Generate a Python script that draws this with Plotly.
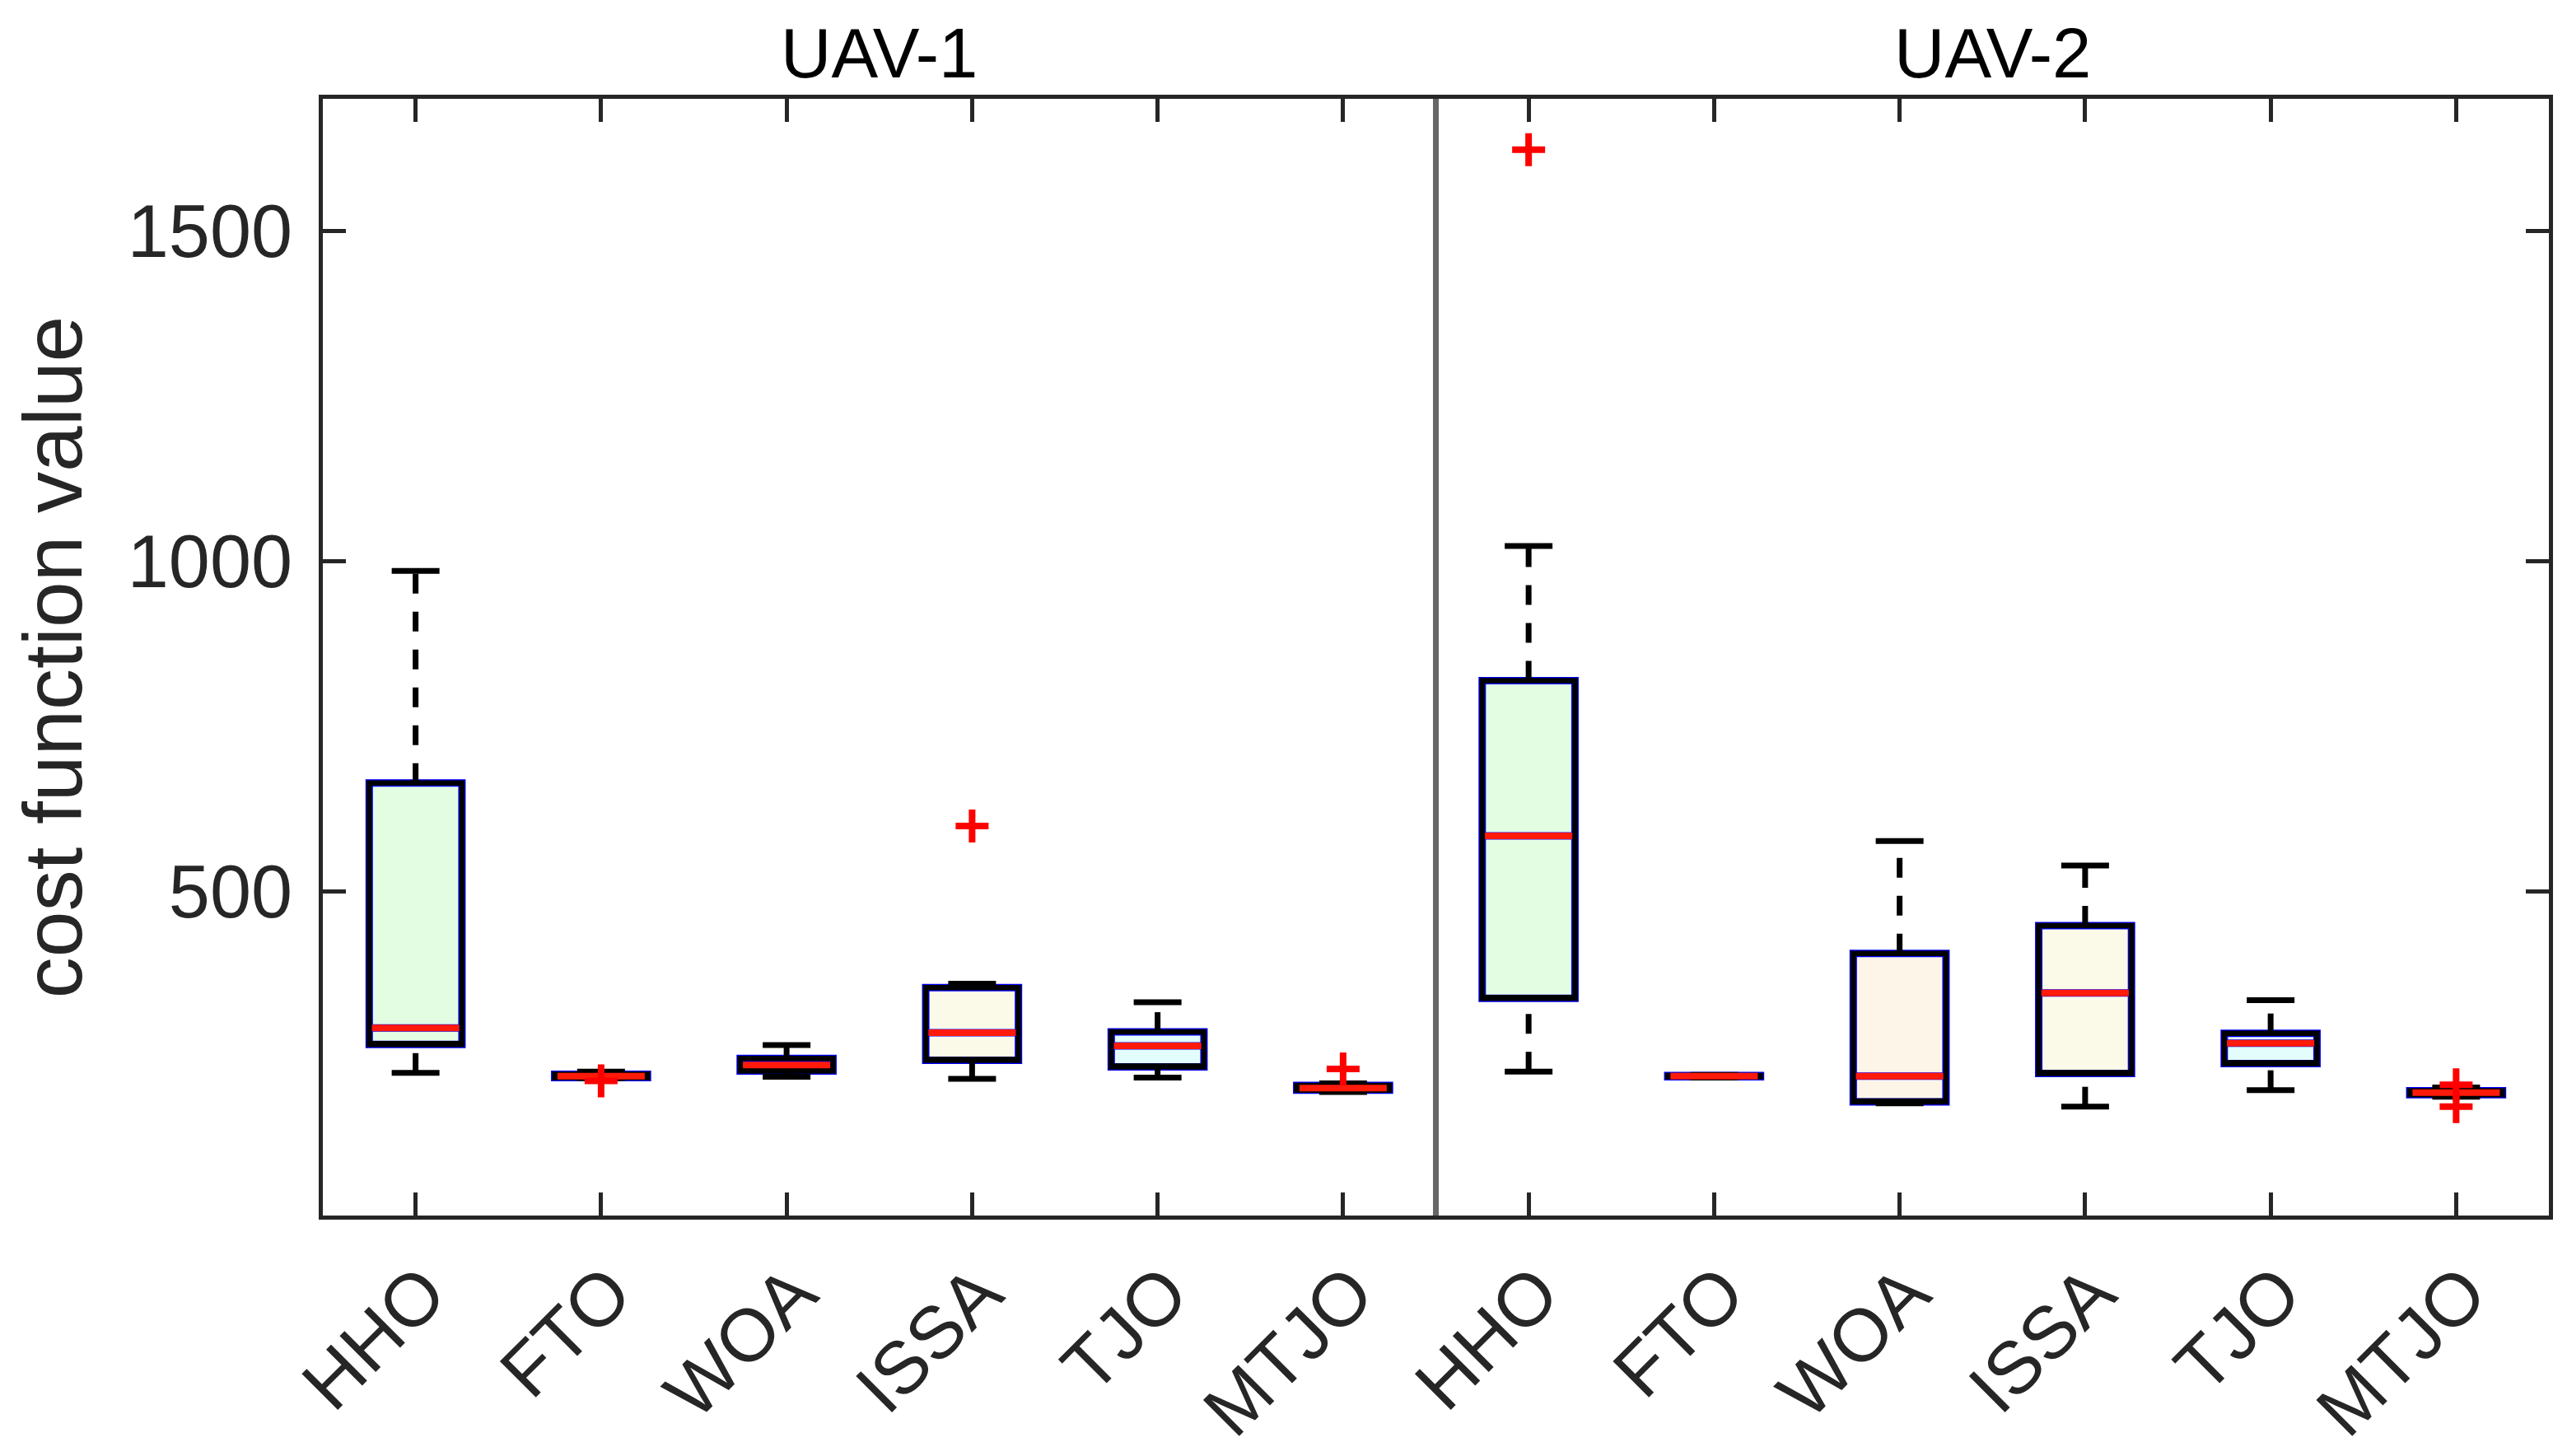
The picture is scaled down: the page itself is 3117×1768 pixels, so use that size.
import plotly.graph_objs as go

algos = ["HHO", "FTO", "WOA", "ISSA", "TJO", "MTJO"]
uavs = ["UAV-1", "UAV-2"]

# UAV-1 box statistics
lower_1 = [225, 217, 219, 216, 218, 196]
q1_1 = [268, 218, 228, 244, 234, 199]
median_1 = [293, 220, 237, 286, 266, 202]
q3_1 = [664, 223, 247, 354, 287, 206]
upper_1 = [985, 227, 267, 360, 332, 209]
outliers_1 = [[], [213], [], [599], [], [231]]

# UAV-2 box statistics
lower_2 = [227, 218, 179, 174, 199, 189]
q1_2 = [338, 219, 181, 224, 239, 192]
median_2 = [584, 220, 220, 346, 270, 195]
q3_2 = [819, 221, 406, 448, 285, 198]
upper_2 = [1023, 222, 576, 539, 335, 203]
outliers_2 = [[1623], [], [], [], [], [207, 174]]

fills = ["#e3fde3", "#fde8ec", "#fdf5e8", "#fbf9e8", "#e3fdfd", "#e8e8fd"]

FONT = "Liberation Sans, Arial, sans-serif"
AX = "#262626"
K = 1.4  # plotly draws line-ew / cross-thin markers 1.4x their size

n = len(algos)
pos = list(range(1, 2 * n + 1))
lower = lower_1 + lower_2
q1 = q1_1 + q1_2
med = median_1 + median_2
q3 = q3_1 + q3_2
upper = upper_1 + upper_2
outl = outliers_1 + outliers_2

data = []

# dashed whiskers, drawn bottom to top like MATLAB
wx, wy = [], []
for i, p in enumerate(pos):
    wx += [p, p, None, p, p, None]
    wy += [lower[i], q1[i], None, q3[i], upper[i], None]
data.append(go.Scatter(x=wx, y=wy, mode="lines", hoverinfo="skip",
                       line=dict(color="black", width=7, dash="24px,22px")))

# whisker caps
data.append(go.Scatter(x=pos + pos, y=lower + upper, mode="markers", hoverinfo="skip",
                       marker=dict(symbol="line-ew", size=58 / K,
                                   line=dict(color="black", width=7))))

# boxes: filled with blue edge underneath, black edge on top
for j, a in enumerate(algos):
    idx = [j, j + n]
    data.append(go.Box(
        x=[pos[k] for k in idx], q1=[q1[k] for k in idx], median=[med[k] for k in idx],
        q3=[q3[k] for k in idx], lowerfence=[q1[k] for k in idx],
        upperfence=[q3[k] for k in idx], width=0.5, whiskerwidth=0,
        fillcolor=fills[j], line=dict(color="#0000ff", width=9), hoverinfo="skip"))
data.append(go.Box(x=pos, q1=q1, median=q1, q3=q3, lowerfence=q1, upperfence=q3,
                   width=0.5, whiskerwidth=0, fillcolor="rgba(0,0,0,0)",
                   line=dict(color="black", width=6.5), hoverinfo="skip"))

# medians
data.append(go.Scatter(x=pos, y=med, mode="markers", hoverinfo="skip",
                       marker=dict(symbol="line-ew", size=106 / K,
                                   line=dict(color="#ff1a0a", width=8))))

# outliers
ox, oy = [], []
for i, p in enumerate(pos):
    for v in outl[i]:
        ox.append(p)
        oy.append(v)
data.append(go.Scatter(x=ox, y=oy, mode="markers", hoverinfo="skip",
                       marker=dict(symbol="cross-thin", size=40 / K,
                                   line=dict(color="#ff0000", width=8))))

axis_style = dict(showline=True, linewidth=5, linecolor=AX, mirror="ticks",
                  ticks="inside", ticklen=28, tickwidth=5, tickcolor=AX,
                  showgrid=False, zeroline=False,
                  tickfont=dict(family=FONT, size=90, color=AX))

layout = go.Layout(
    width=3117, height=1768,
    margin=dict(l=384, r=30, t=112, b=300),
    paper_bgcolor="white", plot_bgcolor="white",
    showlegend=False, boxmode="overlay",
    xaxis=dict(range=[0.5, 2 * n + 0.5], tickvals=pos, ticktext=algos + algos,
               tickangle=-45, ticklabelshift=10, **axis_style),
    yaxis=dict(range=[9, 1700], tickvals=[500, 1000, 1500], ticklabelstandoff=14,
               title=dict(text="cost function value", standoff=30,
                          font=dict(family=FONT, size=100, color=AX)),
               **axis_style),
)

fig = go.Figure(data=data, layout=layout)

# separator between the two UAV groups
fig.add_vline(x=n + 0.5, line_color="#666666", line_width=7)

for k, u in enumerate(uavs):
    fig.add_annotation(x=k * n + (n + 1) / 2, y=1, xref="x", yref="paper",
                       yanchor="bottom", yshift=6, showarrow=False, text=u,
                       font=dict(family=FONT, size=85, color="black"))

fig.write_html("out.html")
